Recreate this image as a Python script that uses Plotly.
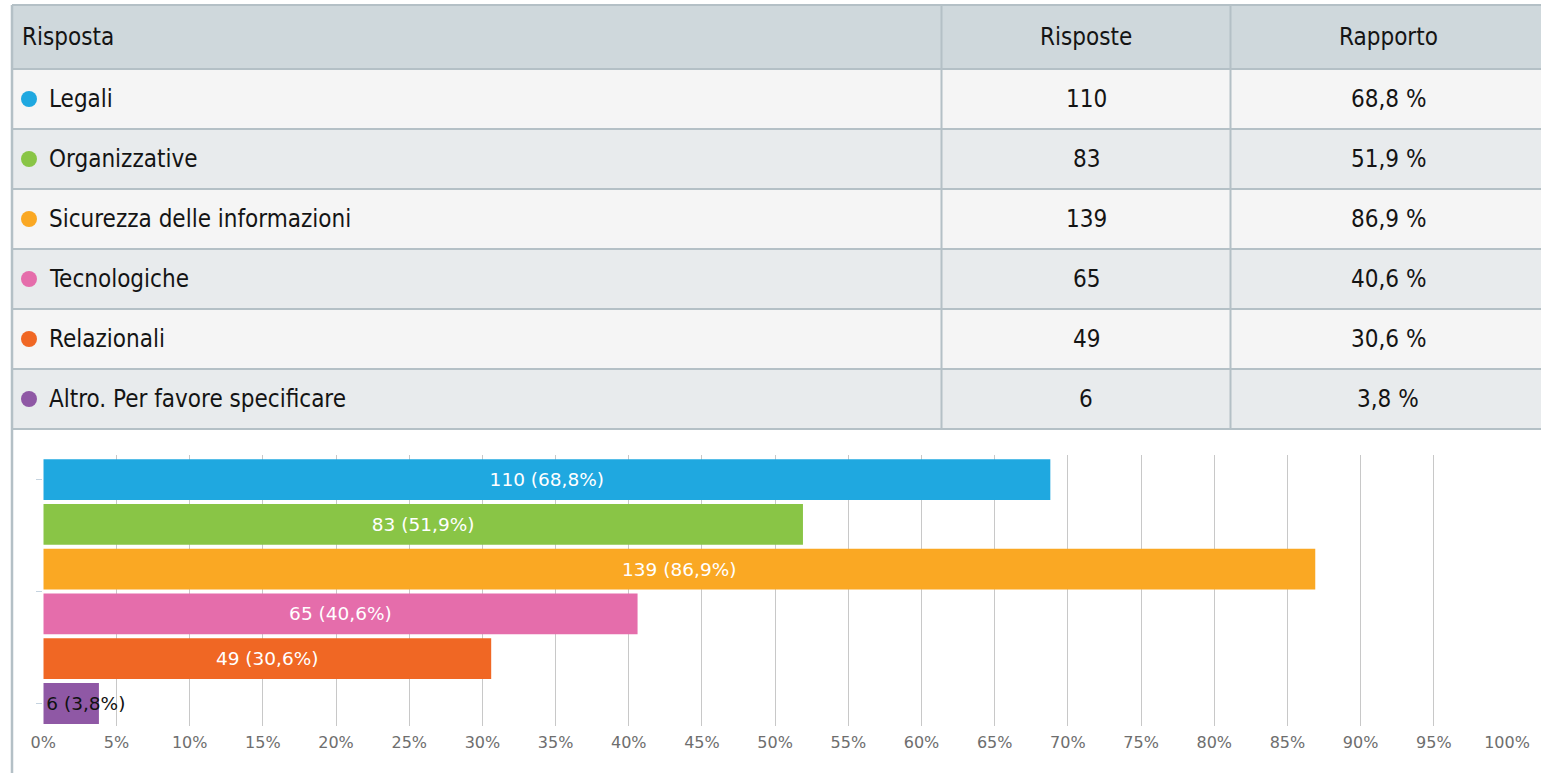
import plotly.graph_objects as go

# ---- data ----
categories = ["Legali", "Organizzative", "Sicurezza delle informazioni",
              "Tecnologiche", "Relazionali", "Altro. Per favore specificare"]
counts = [110, 83, 139, 65, 49, 6]
percents = [68.8, 51.9, 86.9, 40.6, 30.6, 3.8]
colors = ["#1fa8e0", "#89c546", "#faa823", "#e56dab", "#f06724", "#8f58a5"]
header = ["Risposta", "Risposte", "Rapporto"]
x_ticks = list(range(0, 101, 5))

W, H = 1541, 773
def px(x):
    return x / W
def py(y):
    return 1 - y / H

TABLE_FONT = "DejaVu Sans Condensed, Liberation Sans Narrow, sans-serif"
TABLE_SIZE = 24
CHART_FONT = "DejaVu Sans, Verdana, sans-serif"
BORDER = "#b4c0c6"

def fmt(v):
    return f"{v:.1f}".replace(".", ",")

fig = go.Figure()

# ---- bars ----
n = len(categories)
for i in range(n):
    last = (i == n - 1)
    fig.add_trace(go.Bar(
        orientation="h",
        x=[percents[i]], y=[i],
        marker=dict(color=colors[i], line=dict(width=0)),
        width=0.91,
        text=[f"{counts[i]} ({fmt(percents[i])}%)"],
        textposition="inside",
        insidetextanchor="start" if last else "middle",
        constraintext="none",
        textfont=dict(family=CHART_FONT, size=18.5,
                      color="#111111" if last else "#ffffff"),
        showlegend=False,
        hoverinfo="skip",
        cliponaxis=False,
    ))

fig.update_layout(
    width=W, height=H, autosize=False,
    margin=dict(l=0, r=0, t=0, b=0, pad=0),
    paper_bgcolor="#ffffff", plot_bgcolor="#ffffff",
    barmode="overlay",
    showlegend=False,
    xaxis=dict(
        domain=[px(43.3), px(1507)],
        range=[0, 100],
        tickvals=x_ticks,
        ticktext=[f"{v}%" for v in x_ticks],
        tickfont=dict(family=CHART_FONT, size=16, color="#6e6e6e"),
        ticklabelstandoff=5,
        showgrid=True, gridcolor="#c8c8c8", gridwidth=1,
        zeroline=False, showline=False, ticks="",
        automargin=False,
        fixedrange=True,
    ),
    yaxis=dict(
        domain=[py(725.9), py(454.9)],
        range=[5.5, -0.55],
        tickvals=[0, 2.5, 5],
        showticklabels=False,
        ticks="outside", ticklen=6, tickcolor="#c5d3df", tickwidth=1,
        showgrid=False, zeroline=False, showline=False,
        automargin=False,
        fixedrange=True,
    ),
)

# ---- table (shapes + annotations) ----
shapes = []
annotations = []
left, right = 12, 1541
col_x = [12, 941.5, 1230.5, 1546]
header_top, header_bot = 5, 69
row_h = 60
row_bg = ["#f5f5f5", "#e8ebed"]

shapes.append(dict(type="rect", xref="paper", yref="paper",
                   x0=px(left), x1=px(right), y0=py(header_bot), y1=py(header_top),
                   fillcolor="#cfd8dc", line=dict(width=0), layer="below"))
for i in range(n):
    y0 = header_bot + i * row_h
    shapes.append(dict(type="rect", xref="paper", yref="paper",
                       x0=px(left), x1=px(right), y0=py(y0 + row_h), y1=py(y0),
                       fillcolor=row_bg[i % 2], line=dict(width=0), layer="below"))
table_bot = header_bot + n * row_h

for k in range(n + 1):
    yy = header_bot + k * row_h
    shapes.append(dict(type="line", xref="paper", yref="paper",
                       x0=px(left), x1=px(right), y0=py(yy), y1=py(yy),
                       line=dict(color=BORDER, width=2)))
shapes.append(dict(type="line", xref="paper", yref="paper",
                   x0=px(left), x1=px(right), y0=py(header_top), y1=py(header_top),
                   line=dict(color=BORDER, width=2)))
for cx in col_x[1:3]:
    shapes.append(dict(type="line", xref="paper", yref="paper",
                       x0=px(cx), x1=px(cx), y0=py(header_top), y1=py(table_bot),
                       line=dict(color=BORDER, width=2)))
shapes.append(dict(type="line", xref="paper", yref="paper",
                   x0=px(left), x1=px(left), y0=py(header_top), y1=0,
                   line=dict(color=BORDER, width=2.5)))

hc = (header_top + header_bot) / 2
tfont = dict(family=TABLE_FONT, size=TABLE_SIZE, color="#141414")
annotations.append(dict(xref="paper", yref="paper", x=px(20), y=py(hc),
                        text=header[0], showarrow=False, xanchor="left", yanchor="middle",
                        font=tfont))
for j in (1, 2):
    annotations.append(dict(xref="paper", yref="paper",
                            x=px((col_x[j] + col_x[j + 1]) / 2), y=py(hc),
                            text=header[j], showarrow=False, xanchor="center", yanchor="middle",
                            font=tfont))

for i in range(n):
    yc = header_bot + i * row_h + row_h / 2
    shapes.append(dict(type="circle", xref="paper", yref="paper",
                       x0=px(21), x1=px(37), y0=py(yc + 8), y1=py(yc - 8),
                       fillcolor=colors[i], line=dict(width=0)))
    annotations.append(dict(xref="paper", yref="paper", x=px(47), y=py(yc),
                            text=categories[i], showarrow=False, xanchor="left", yanchor="middle",
                            font=tfont))
    annotations.append(dict(xref="paper", yref="paper",
                            x=px((col_x[1] + col_x[2]) / 2), y=py(yc),
                            text=str(counts[i]), showarrow=False, xanchor="center", yanchor="middle",
                            font=tfont))
    annotations.append(dict(xref="paper", yref="paper",
                            x=px((col_x[2] + col_x[3]) / 2), y=py(yc),
                            text=f"{fmt(percents[i])} %", showarrow=False, xanchor="center", yanchor="middle",
                            font=tfont))

fig.update_layout(shapes=shapes, annotations=annotations)

fig.write_html(
    "out.html",
    config={"responsive": False, "displayModeBar": False},
    post_script="document.body.style.margin='0';document.body.style.padding='0';"
                "document.body.style.overflow='hidden';"
                "document.documentElement.style.overflow='hidden';",
)
